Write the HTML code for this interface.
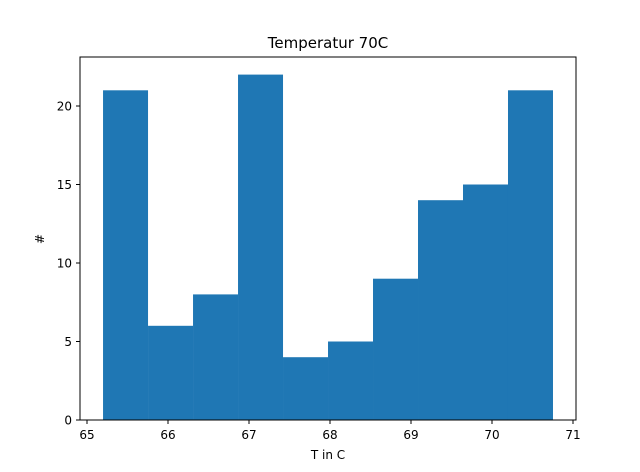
<!DOCTYPE html>
<html><head><meta charset="utf-8"><style>
html,body{margin:0;padding:0;background:#fff;overflow:hidden;width:640px;height:472px;}
svg{display:block;}
svg text{font-family:"DejaVu Sans","Liberation Sans",sans-serif;}
</style></head><body>
<svg id="chart" width="640" height="472" xmlns="http://www.w3.org/2000/svg">
<rect width="640" height="472" fill="#fff"/>
<text x="328" y="48" font-size="15" text-anchor="middle">Temperatur 70C</text>
<g id="bars"></g>
<rect x="80" y="57" width="496" height="363" fill="none" stroke="#000" stroke-width="1"/>
<g id="xticks"></g><g id="yticks"></g>
<text x="328" y="459" font-size="12" text-anchor="middle">T in C</text>
<text x="44" y="239" font-size="12" text-anchor="middle" transform="rotate(-90 44 239)">#</text>
</svg>
<script>
const binStart = 65.198;
const binWidth = 0.5555;
const counts = [21, 6, 8, 22, 4, 5, 9, 14, 15, 21];
const xTickLabels = [65, 66, 67, 68, 69, 70, 71];
const yTickLabels = [0, 5, 10, 15, 20];
const X0 = 87, XS = 81, Y0 = 420, YS = 15.7;
function xs(v){return X0 + (v - 65) * XS;}
function ys(v){return Y0 - v * YS;}
const NS = "http://www.w3.org/2000/svg";
const bars = document.getElementById('bars');
counts.forEach((c, i) => {
  const r = document.createElementNS(NS, 'rect');
  const x1 = xs(binStart + i * binWidth), x2 = xs(binStart + (i + 1) * binWidth);
  r.setAttribute('x', x1); r.setAttribute('width', x2 - x1);
  r.setAttribute('y', ys(c)); r.setAttribute('height', ys(0) - ys(c));
  r.setAttribute('fill', '#1f77b4');
  
  
  bars.appendChild(r);
});
const xt = document.getElementById('xticks');
xTickLabels.forEach(v => {
  const x = xs(v);
  const l = document.createElementNS(NS, 'line');
  l.setAttribute('x1', x); l.setAttribute('x2', x); l.setAttribute('y1', 420); l.setAttribute('y2', 424);
  l.setAttribute('stroke', '#000');
  
  
  xt.appendChild(l);
  const t = document.createElementNS(NS, 'text');
  t.setAttribute('x', x); t.setAttribute('y', 439); t.setAttribute('font-size', '12'); t.setAttribute('text-anchor', 'middle');
  t.textContent = v;
  
  
  xt.appendChild(t);
});
const yt = document.getElementById('yticks');
yTickLabels.forEach(v => {
  const y = ys(v);
  const l = document.createElementNS(NS, 'line');
  l.setAttribute('x1', 76); l.setAttribute('x2', 80); l.setAttribute('y1', y); l.setAttribute('y2', y);
  l.setAttribute('stroke', '#000');
  
  
  yt.appendChild(l);
  const t = document.createElementNS(NS, 'text');
  t.setAttribute('x', 72); t.setAttribute('y', y + 4.5); t.setAttribute('font-size', '12'); t.setAttribute('text-anchor', 'end');
  t.textContent = v;
  
  
  yt.appendChild(t);
});
</script>
</body></html>
